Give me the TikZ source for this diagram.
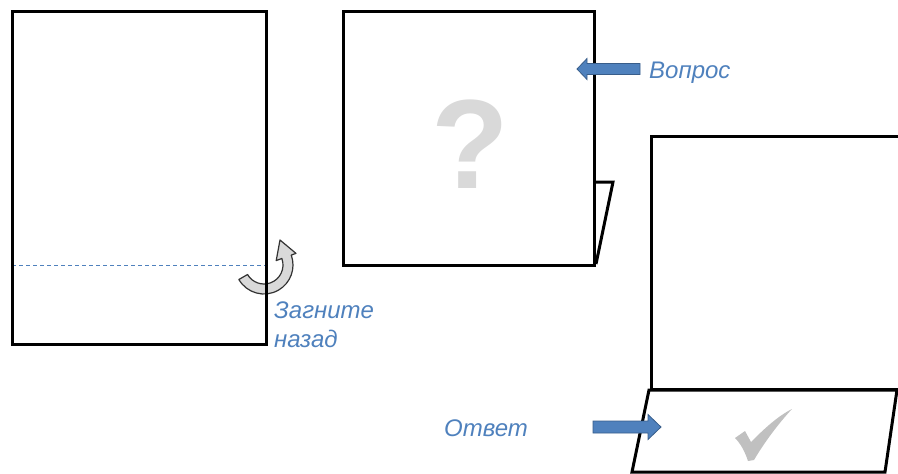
\documentclass[tikz,border=0pt]{standalone}
\usepackage{fontspec}
\setmainfont{Liberation Sans}
\usetikzlibrary{calc}
\definecolor{blueacc}{HTML}{4F81BD}
\definecolor{blueedge}{HTML}{385D8A}
\definecolor{markgray}{HTML}{D9D9D9}
\definecolor{tickgray}{HTML}{C0C0C0}
\begin{document}
\begin{tikzpicture}[x=1pt,y=-1pt,
  sheet/.style={line width=3pt, line join=miter},
  note/.style={font=\fontsize{24}{29}\selectfont\itshape, text=blueacc, inner sep=0pt},
  blockarrow/.style={fill=blueacc, draw=blueedge, line width=0.8pt}]
\useasboundingbox (0,0) rectangle (898,474);
\clip (0,0) rectangle (898,474);
% left sheet with fold line
\draw[blueacc, line width=1pt, dash pattern=on 4pt off 3pt] (12,265) -- (266,265);
\coordinate (c) at (264,265);
\filldraw[fill=markgray, draw=black!80, line width=1.2pt, line join=round]
  ($(c)+(150:29)$) arc[start angle=150, end angle=-20, radius=29]
  -- ($(c)+(-20:34)$) -- (280,240) -- ($(c)+(-20:13)$) -- ($(c)+(-20:19)$)
  arc[start angle=-20, end angle=150, radius=19] -- cycle;
\draw[sheet] (12,11) rectangle (266,344);
\node[note, anchor=base west, align=left] (fold) at (274,347) {Загните\\назад};
% middle sheet
\draw[sheet] (343,11) rectangle (594,265);
\draw[sheet] (594,182) -- (613,182) -- (596,264);
\node[font=\fontsize{127}{127}\selectfont\bfseries, text=markgray, inner sep=0pt, anchor=base] (qmark) at (470,188) {?};
\filldraw[blockarrow] (640,63.5) -- (587,63.5) -- (587,58.5) -- (577,69) -- (587,79.5) -- (587,74.5) -- (640,74.5) -- cycle;
\node[note, anchor=base west] (question) at (649,78) {Вопрос};
% right sheet
\draw[sheet] (651,136) rectangle (905,389);
\draw[sheet] (649,390) -- (897,390) -- (885,472) -- (632,472) -- cycle;
\fill[tickgray] (735,438) -- (745,431) -- (751,442) .. controls (765,428) and (778,416) .. (792,409)
  .. controls (778,424) and (764,443) .. (754,460) -- (748,461) .. controls (745,452) and (741,444) .. (735,438) -- cycle;
\filldraw[blockarrow] (593,421) -- (648,421) -- (648,414.5) -- (661,427) -- (648,439.5) -- (648,433) -- (593,433) -- cycle;
\node[note, anchor=base west] (answer) at (444,436) {Ответ};
\end{tikzpicture}
\end{document}
